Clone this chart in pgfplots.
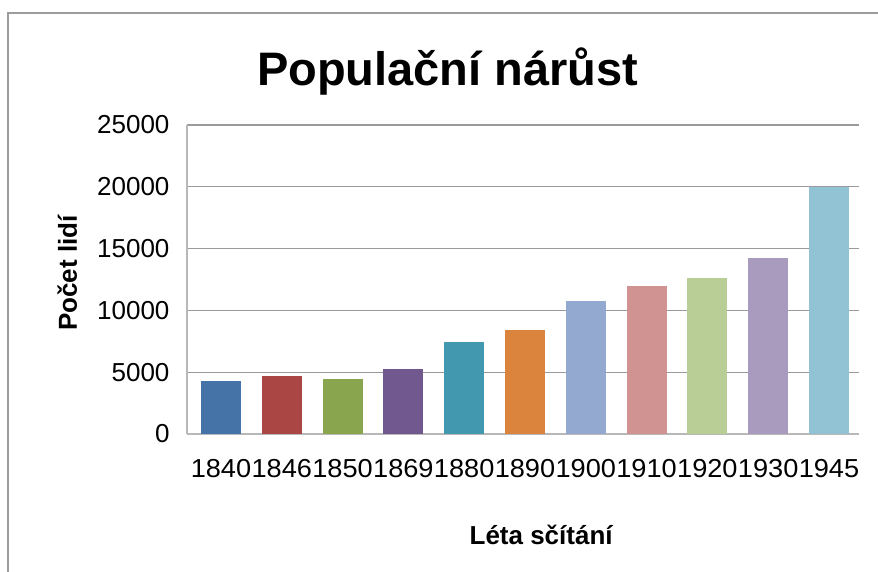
\documentclass[border=0pt]{standalone}
\usepackage{fontspec}
\setmainfont{Liberation Sans}
\newfontfamily\widesans[FakeStretch=1.045]{Liberation Sans}
\usepackage{pgfplots}
\pgfplotsset{compat=1.18}
\definecolor{c1}{HTML}{4572A7}
\definecolor{c2}{HTML}{AA4643}
\definecolor{c3}{HTML}{89A54E}
\definecolor{c4}{HTML}{71588F}
\definecolor{c5}{HTML}{4198AF}
\definecolor{c6}{HTML}{DB843D}
\definecolor{c7}{HTML}{93A9CF}
\definecolor{c8}{HTML}{D19392}
\definecolor{c9}{HTML}{B9CD96}
\definecolor{c10}{HTML}{A99BBD}
\definecolor{c11}{HTML}{92C3D5}
\definecolor{gridgray}{HTML}{9A9A9A}
\definecolor{axisgray}{HTML}{B8B8B8}
\definecolor{framegray}{HTML}{9C9C9C}
\begin{document}
\begin{tikzpicture}[x=1pt,y=1pt]
\useasboundingbox (0,0) rectangle (878,572);
\draw[line width=1.6pt, color=framegray] (8,-5) -- (8,559) -- (890,559);
\begin{axis}[
  at={(187pt,138pt)}, anchor=south west,
  scale only axis, width=672pt, height=309pt,
  xmin=-0.559, xmax=10.494, ymin=0, ymax=25000,
  ytick={0,5000,10000,15000,20000,25000},
  xtick={0,1,2,3,4,5,6,7,8,9,10},
  xticklabels={1840,1846,1850,1869,1880,1890,1900,1910,1920,1930,1945},
  ymajorgrids, grid style={color=gridgray, line width=1.3pt},
  axis x line*=bottom, axis y line*=left,
  x axis line style={-, color=axisgray, line width=2pt},
  y axis line style={-, color=axisgray, line width=1.2pt},
  major tick length=0pt,
  scaled y ticks=false,
  /pgf/number format/1000 sep={},
  /pgf/number format/assume math mode=true,
  tick label style={font=\fontsize{26}{30}\selectfont, color=black},
  yticklabel style={anchor=east, xshift=-14pt},
  xticklabel style={anchor=base, yshift=-44pt, font=\widesans\fontsize{26}{30}\selectfont},
  every axis title shift=0pt,
  title={Populační nárůst},
  title style={at={(axis description cs:0.388,1.129)}, anchor=base, yshift=0pt, font=\bfseries\fontsize{47}{56}\selectfont},
  xlabel={Léta sčítání},
  xlabel style={at={(axis description cs:0.527,-0.356)}, anchor=base, yshift=0pt, font=\bfseries\fontsize{26}{30}\selectfont},
  ylabel={Počet lidí},
  ylabel style={at={(axis description cs:-0.1637,0.521)}, anchor=base, rotate=0, font=\bfseries\fontsize{26}{30}\selectfont},
]
\addplot[ybar, bar width=0.658, fill=c1, draw=none] coordinates {(0,4270)};
\addplot[ybar, bar width=0.658, fill=c2, draw=none] coordinates {(1,4680)};
\addplot[ybar, bar width=0.658, fill=c3, draw=none] coordinates {(2,4430)};
\addplot[ybar, bar width=0.658, fill=c4, draw=none] coordinates {(3,5240)};
\addplot[ybar, bar width=0.658, fill=c5, draw=none] coordinates {(4,7420)};
\addplot[ybar, bar width=0.658, fill=c6, draw=none] coordinates {(5,8380)};
\addplot[ybar, bar width=0.658, fill=c7, draw=none] coordinates {(6,10730)};
\addplot[ybar, bar width=0.658, fill=c8, draw=none] coordinates {(7,11940)};
\addplot[ybar, bar width=0.658, fill=c9, draw=none] coordinates {(8,12590)};
\addplot[ybar, bar width=0.658, fill=c10, draw=none] coordinates {(9,14200)};
\addplot[ybar, bar width=0.658, fill=c11, draw=none] coordinates {(10,20000)};
\end{axis}
\end{tikzpicture}
\end{document}
